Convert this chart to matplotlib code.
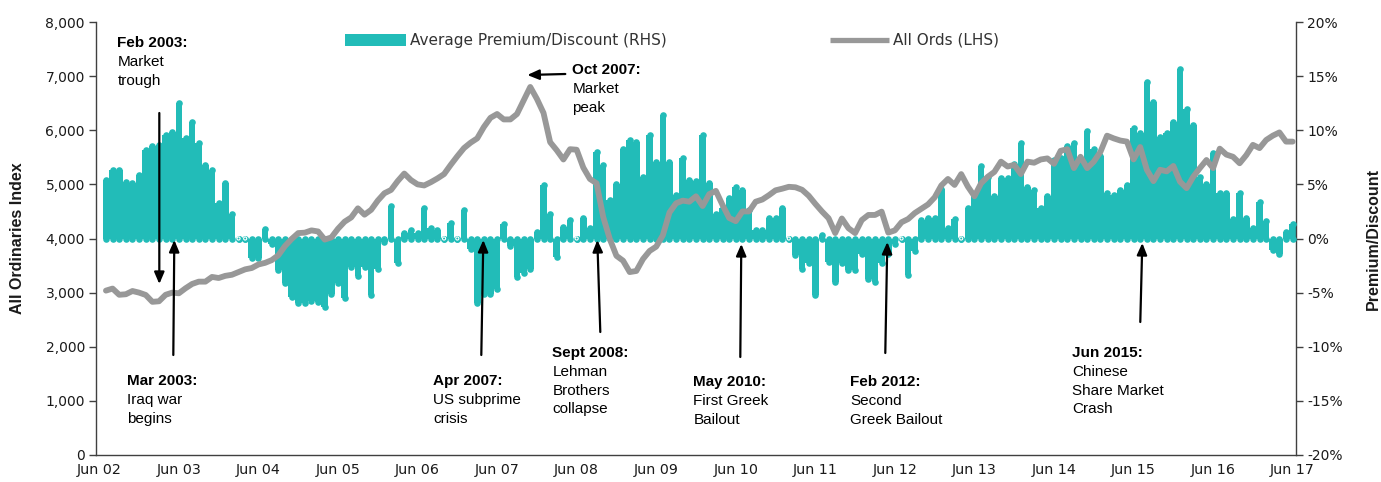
import matplotlib
matplotlib.use('Agg')
import matplotlib.pyplot as plt
from matplotlib import font_manager
from matplotlib.patches import Rectangle
from matplotlib.lines import Line2D

# ---------------- data ----------------
tick_labels = ['Jun 02', 'Jun 03', 'Jun 04', 'Jun 05', 'Jun 06', 'Jun 07', 'Jun 08', 'Jun 09',
               'Jun 10', 'Jun 11', 'Jun 12', 'Jun 13', 'Jun 14', 'Jun 15', 'Jun 16', 'Jun 17']
tick_pos = list(range(0, 181, 12))          # category index, 0 = Jun 2002
months = list(range(1, 181))                # Jul 2002 .. Jun 2017

premium = [  # Average Premium/Discount (%), RHS
    5.4, 6.3, 6.3, 5.25, 5.1, 5.9, 8.2, 8.5, 8.6, 9.6, 9.8, 12.5,
    9.3, 10.8, 8.8, 6.8, 6.3, 3.3, 5.1, 2.3, 0, 0, -1.8, -1.8,
    0.9, -0.5, -2.9, -4.1, -5.4, -6.0, -6.0, -5.8, -5.9, -6.3, -5.1, -4.1,
    -5.5, -2.6, -3.5, -2.6, -5.2, -2.8, -0.3, 3.0, -2.3, 0.5, 0.8, 0.5,
    2.8, 0.95, 0.8, 0, 1.4, 0, 2.6, -1.0, -6.0, -5.1, -5.1, -4.7,
    1.3, -0.7, -3.6, -3.2, -2.8, 0.6, 4.9, 2.3, -1.7, 1.1, 1.7, 0,
    1.9, 1.0, 8.0, 6.8, 3.6, 5.0, 8.3, 9.1, 8.9, 5.7, 9.6, 7.1,
    11.4, 7.1, 4.0, 7.4, 5.4, 5.3, 9.6, 5.1, 2.3, 2.8, 3.7, 4.8,
    4.5, 2.6, 0.8, 0.8, 1.9, 1.9, 2.8, 0, -1.5, -2.8, -2.3, -5.2,
    0.3, -2.2, -4.0, -2.3, -2.9, -2.9, -1.4, -3.7, -4.0, -2.3, -1.4, -0.5,
    0, -3.4, -1.2, 1.7, 1.9, 1.9, 4.6, 1.0, 1.8, 0, 2.8, 3.9,
    6.7, 5.7, 3.9, 5.6, 5.6, 6.9, 8.8, 4.8, 4.5, 2.8, 3.9, 7.25,
    7.4, 8.5, 8.8, 7.0, 9.9, 8.3, 7.6, 4.2, 4.0, 4.5, 4.9, 10.2,
    9.7, 14.5, 12.6, 9.4, 9.7, 10.8, 15.7, 12.0, 10.5, 5.7, 5.0, 7.9,
    4.2, 4.2, 1.8, 4.2, 1.9, 1.0, 3.4, 1.6, -1.1, -1.4, 0.6, 1.3,
]

all_ords = [  # All Ordinaries index, LHS
    3037, 3075, 2960, 2970, 3030, 3000, 2957, 2830, 2840, 2960, 3000, 2988,
    3080, 3160, 3203, 3203, 3290, 3270, 3310, 3330, 3380, 3430, 3455, 3520,
    3550, 3600, 3690, 3860, 3990, 4100, 4108, 4150, 4130, 3980, 4020, 4180,
    4311, 4390, 4558, 4440, 4530, 4700, 4836, 4897, 5060, 5200, 5080, 5000,
    4980, 5040, 5110, 5190, 5360, 5520, 5670, 5770, 5850, 6060, 6230, 6300,
    6200, 6200, 6300, 6550, 6800, 6580, 6320, 5780, 5630, 5460, 5650, 5640,
    5310, 5100, 5020, 4400, 3990, 3680, 3590, 3380, 3400, 3620, 3770, 3850,
    4060, 4480, 4651, 4700, 4680, 4780, 4600, 4820, 4880, 4620, 4380, 4320,
    4500, 4500, 4680, 4720, 4800, 4890, 4920, 4955, 4946, 4900, 4790, 4640,
    4500, 4374, 4100, 4370, 4190, 4100, 4340, 4435, 4435, 4496, 4109, 4150,
    4300, 4360, 4470, 4550, 4630, 4760, 4980, 5100, 4990, 5190, 4960, 4780,
    5020, 5140, 5230, 5420, 5330, 5360, 5190, 5420, 5400, 5460, 5480, 5380,
    5620, 5650, 5300, 5510, 5300, 5420, 5600, 5900, 5850, 5810, 5790, 5460,
    5690, 5270, 5060, 5270, 5240, 5340, 5050, 4930, 5140, 5300, 5450, 5300,
    5660, 5550, 5510, 5390, 5540, 5730, 5670, 5820, 5900, 5960, 5790, 5790,
]

left_ticks = list(range(0, 8001, 1000))
right_ticks = list(range(-20, 21, 5))

# ---------------- style ----------------
TEAL = '#22bcb8'
GREY = '#989898'
AXC = '#404040'
TXT = '#1a1a1a'

names = {f.name for f in font_manager.fontManager.ttflist}
if 'Liberation Sans Narrow' in names:
    NOTE_FAM, NOTE_FS = ['Liberation Sans Narrow', 'DejaVu Sans'], 12
else:
    NOTE_FAM, NOTE_FS = ['Liberation Sans', 'DejaVu Sans'], 11
TICK_FAM = ['DejaVu Sans']

W, H = 1381, 482
Lp, Rp, Tp, Bp = 96, 1296, 22, 455
fig = plt.figure(figsize=(W / 100, H / 100), dpi=100)
ax1 = fig.add_axes([Lp / W, 1 - Bp / H, (Rp - Lp) / W, (Bp - Tp) / H])
ax2 = ax1.twinx()
ax1.set_zorder(ax2.get_zorder() + 1)
ax1.patch.set_visible(False)

# bars (RHS): one solid stepped shape (touching columns) + rounded ends
edges = [m - 0.5 for m in months] + [months[-1] + 0.5]
ax2.stairs(premium, edges, baseline=0, fill=True, color=TEAL, linewidth=0, zorder=2)
cap_s = 22.5   # marker area (pt^2) ~ one column wide
ax2.scatter(months, premium, s=cap_s, color=TEAL, linewidths=0, zorder=3)
ax2.scatter(months, [0] * len(months), s=cap_s, color=TEAL, linewidths=0, zorder=3)
zero_m = [m for m, v in zip(months, premium) if v == 0]
ax2.scatter(zero_m, [0] * len(zero_m), s=5, facecolors='none', edgecolors='white',
            linewidths=0.8, zorder=4)

# line (LHS)
ax1.plot(months, all_ords, color=GREY, lw=4.2, solid_joinstyle='round',
         solid_capstyle='round', zorder=3)

ax1.set_xlim(-0.5, 180.5)
ax1.set_ylim(0, 8000)
ax2.set_ylim(-20, 20)

ax1.set_yticks(left_ticks)
ax1.set_yticklabels([f'{v:,}' for v in left_ticks])
ax2.set_yticks(right_ticks)
ax2.set_yticklabels([f'{v}%' for v in right_ticks])
ax1.set_xticks(tick_pos)
ax1.set_xticklabels(tick_labels)

for a in (ax1, ax2):
    a.spines['top'].set_visible(False)
    for s in a.spines.values():
        s.set_color(AXC)
        s.set_linewidth(1.0)
ax1.spines['right'].set_visible(False)
ax2.spines['left'].set_visible(False)
ax2.spines['bottom'].set_visible(False)

ax1.tick_params(axis='y', direction='out', length=5, width=1, color=AXC, pad=3,
                labelsize=10, labelcolor=TXT)
ax2.tick_params(axis='y', direction='out', length=5, width=1, color=AXC, pad=3,
                labelsize=10, labelcolor=TXT)
ax1.tick_params(axis='x', length=0, pad=6, labelsize=10.3, labelcolor=TXT)
for lab in ax1.get_xticklabels() + ax1.get_yticklabels() + ax2.get_yticklabels():
    lab.set_family(TICK_FAM)

# axis titles
fig.text(18 / W, 1 - 238.5 / H, 'All Ordinaries Index', rotation=90, ha='center', va='center',
         fontsize=11.5, fontweight='bold', family=['Liberation Sans', 'DejaVu Sans'], color=TXT)
fig.text(1373 / W, 1 - 238.5 / H, 'Premium/Discount', rotation=90, ha='center', va='center',
         fontsize=11.5, fontweight='bold', family=['Liberation Sans', 'DejaVu Sans'], color=TXT)

# legend (manual)
def fx(px):
    return px / W

def fy(py):
    return 1 - py / H

fig.patches.append(Rectangle((fx(345), fy(46)), (406 - 345) / W, 12 / H,
                             transform=fig.transFigure, facecolor=TEAL, edgecolor='none'))
fig.text(fx(410), fy(40), 'Average Premium/Discount (RHS)', ha='left', va='center',
         fontsize=11, family=TICK_FAM, color='#333333')
fig.lines.append(Line2D([fx(830), fx(889)], [fy(40), fy(40)], transform=fig.transFigure,
                        color=GREY, lw=3.8, solid_capstyle='butt'))
fig.text(fx(893), fy(40), 'All Ords (LHS)', ha='left', va='center',
         fontsize=11, family=TICK_FAM, color='#333333')

# annotations (pixel -> data helpers)
def dk(px):
    return (px - 99) / 6.63

def dv(py):
    return (455 - py) * 8000 / 433

def note(px, py, header, lines):
    ax1.text(dk(px), dv(py), header, ha='left', va='center', fontsize=NOTE_FS,
             fontweight='bold', family=NOTE_FAM, color='black', zorder=6)
    for n, t in enumerate(lines, start=1):
        ax1.text(dk(px), dv(py + 18.8 * n), t, ha='left', va='center', fontsize=NOTE_FS,
                 family=NOTE_FAM, color='black', zorder=6)

def arrow(tail, head):
    ax1.annotate('', xy=(dk(head[0]), dv(head[1])), xytext=(dk(tail[0]), dv(tail[1])),
                 arrowprops=dict(arrowstyle='-|>,head_length=0.7,head_width=0.3',
                                 color='black', lw=1.6, shrinkA=0, shrinkB=0),
                 zorder=6)

note(117, 43, 'Feb 2003:', ['Market', 'trough'])
arrow((159, 113), (159, 284))
note(127, 381, 'Mar 2003:', ['Iraq war', 'begins'])
arrow((173, 355), (174, 240))
note(572, 70, 'Oct 2007:', ['Market', 'peak'])
arrow((565, 74), (527, 75))
note(433, 381, 'Apr 2007:', ['US subprime', 'crisis'])
arrow((481, 355), (483, 240))
note(552, 353, 'Sept 2008:', ['Lehman', 'Brothers', 'collapse'])
arrow((600, 332), (597, 240))
note(693, 382, 'May 2010:', ['First Greek', 'Bailout'])
arrow((740, 357), (741, 244))
note(850, 382, 'Feb 2012:', ['Second', 'Greek Bailout'])
arrow((885, 353), (887, 242))
note(1072, 353, 'Jun 2015:', ['Chinese', 'Share Market', 'Crash'])
arrow((1140, 322), (1142, 243))

fig.savefig('out.png', dpi=100)
